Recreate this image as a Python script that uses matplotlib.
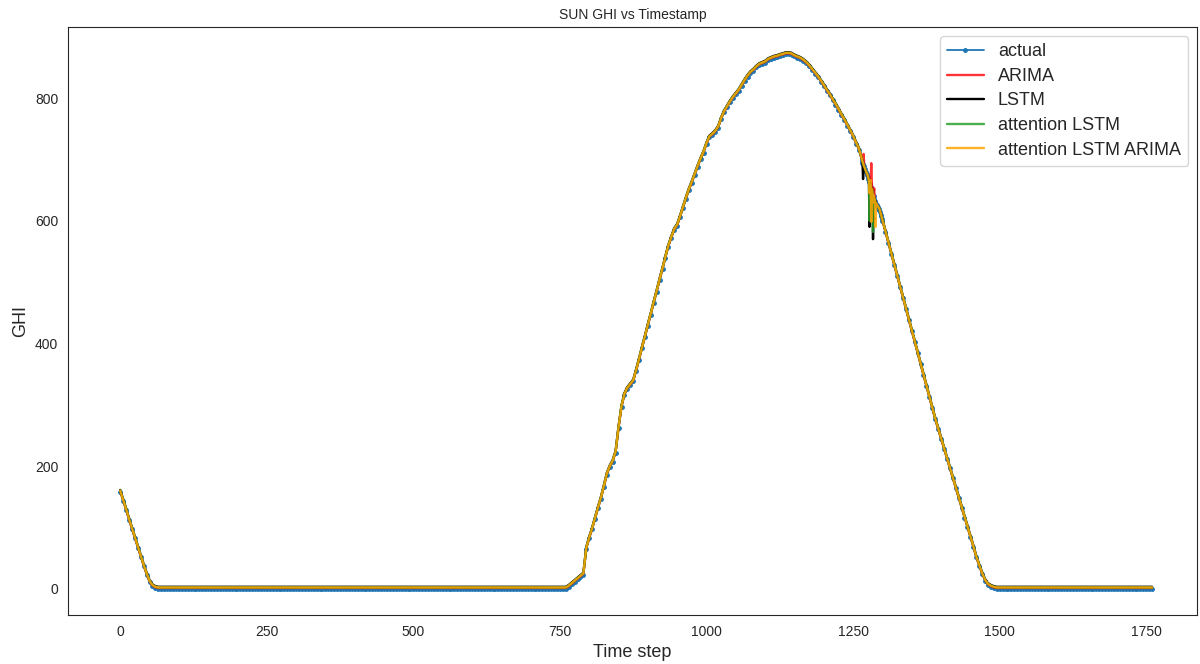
import numpy as np
import matplotlib.pyplot as plt
import seaborn as sns

sns.set_style('white')
plt.rcParams['font.family'] = ['Liberation Sans', 'DejaVu Sans']

#%% data (GHI, every 5 steps, every step around the dip)

seg_start = [0, 70, 760, 1265, 1300, 1500]
seg_step = [5, 5, 5, 1, 5, 5]

evening = [158, 143, 128, 112, 97, 82, 67, 52, 37, 23, 11, 4, 1, 0]
night_1 = [0] * 138
day_rise = [0, 3, 7, 11, 15, 19, 23, 65, 82, 97,
            114, 131, 147, 166, 186, 198, 207, 222, 262, 296,
            316, 326, 332, 338, 355, 373, 392, 410, 429, 447,
            466, 484, 503, 521, 540, 558, 572, 585, 592, 606,
            621, 636, 650, 662, 675, 688, 700, 711, 725, 736,
            740, 745, 752, 766, 777, 785, 793, 800, 806, 812,
            820, 828, 835, 841, 845, 850, 854, 856, 858, 862,
            864, 866, 867, 869, 870, 872, 872, 871, 868, 866,
            864, 861, 857, 852, 846, 840, 834, 827, 820, 812,
            805, 797, 789, 781, 772, 764, 755, 746, 737, 726,
            716]
dip_actual = [698, 695, 692, 689, 686, 684, 681, 679, 676, 674,
              672, 668, 664, 640, 660, 655, 615, 650, 645, 605,
              640, 635, 632, 629, 627, 625, 623, 622, 620, 619,
              617, 614, 610, 607, 603]
day_fall = [600, 582, 564, 546, 528, 510, 492, 474, 456, 438,
            420, 402, 384, 366, 348, 330, 312, 294, 276, 260,
            244, 228, 212, 196, 180, 164, 148, 132, 116, 100,
            84, 68, 51, 37, 24, 13, 6, 3, 1, 0]
night_2 = [0] * 53

# model outputs in the dip window (t = 1265..1299)
dip_arima = [699, 696, 693, 709, 688, 685, 682, 680, 677, 675,
             673, 670, 666, 662, 645, 665, 694, 660, 651, 648,
             645, 653, 628, 633, 630, 628, 626, 624, 622, 621,
             619, 617, 614, 610, 606]
dip_lstm = [700, 697, 668, 691, 688, 686, 683, 681, 678, 676,
            674, 671, 667, 590, 650, 662, 640, 652, 647, 570,
            630, 637, 634, 631, 629, 627, 625, 624, 622, 621,
            619, 616, 612, 609, 605]
dip_att = [700, 697, 694, 691, 688, 686, 683, 681, 678, 676,
           674, 670, 666, 600, 658, 657, 625, 651, 646, 582,
           638, 637, 634, 631, 629, 627, 625, 624, 622, 621,
           619, 616, 612, 609, 605]
dip_att_arima = [700, 697, 694, 691, 688, 686, 683, 681, 678, 676,
                 674, 670, 666, 645, 662, 666, 598, 652, 647, 630,
                 642, 637, 634, 590, 629, 627, 625, 624, 622, 621,
                 619, 616, 612, 609, 605]

# models sit a touch above the measured curve elsewhere
bias = {'ARIMA': 1.0, 'LSTM': 3.0, 'attention LSTM': 2.0, 'attention LSTM ARIMA': 2.0}

#%% assemble series

segments = [evening, night_1, day_rise, dip_actual, day_fall, night_2]
t = np.concatenate([s0 + st * np.arange(len(v)) for s0, st, v in zip(seg_start, seg_step, segments)])
actual = np.concatenate([np.array(v, dtype=float) for v in segments])

dip = (t >= 1265) & (t <= 1299)

def model(name, dip_vals):
    y = actual + bias[name]
    y[dip] = dip_vals
    return y

arima = model('ARIMA', dip_arima)
lstm = model('LSTM', dip_lstm)
att = model('attention LSTM', dip_att)
att_arima = model('attention LSTM ARIMA', dip_att_arima)

#%% plot

fig = plt.figure(figsize=(12, 6.64), dpi=100)
ax = fig.add_axes([0.0567, 0.0738, 0.941, 0.8855])

ax.plot(t, actual, marker='.', markersize=5, lw=1.3, color='tab:blue', label='actual')
ax.plot(t, arima, color='red', alpha=0.8, lw=1.7, label='ARIMA')
ax.plot(t, lstm, color='black', lw=1.7, label='LSTM')
ax.plot(t, att, color='tab:green', alpha=0.85, lw=1.7, label='attention LSTM')
ax.plot(t, att_arima, color='orange', alpha=0.85, lw=1.7, label='attention LSTM ARIMA')

ax.set_xlim(-89, 1837)
ax.set_ylim(-43, 916)
ax.set_xticks([0, 250, 500, 750, 1000, 1250, 1500, 1750])
ax.set_yticks([0, 200, 400, 600, 800])
ax.tick_params(labelsize=10, colors='.15')

ax.set_title('SUN GHI vs Timestamp', fontsize=10, color='.15')
ax.set_xlabel('Time step', fontsize=13, color='.15')
ax.set_ylabel('GHI', fontsize=13, color='.15')

ax.legend(loc='upper right', fontsize=13, labelspacing=0.42)

plt.savefig('out.png', dpi=100)
